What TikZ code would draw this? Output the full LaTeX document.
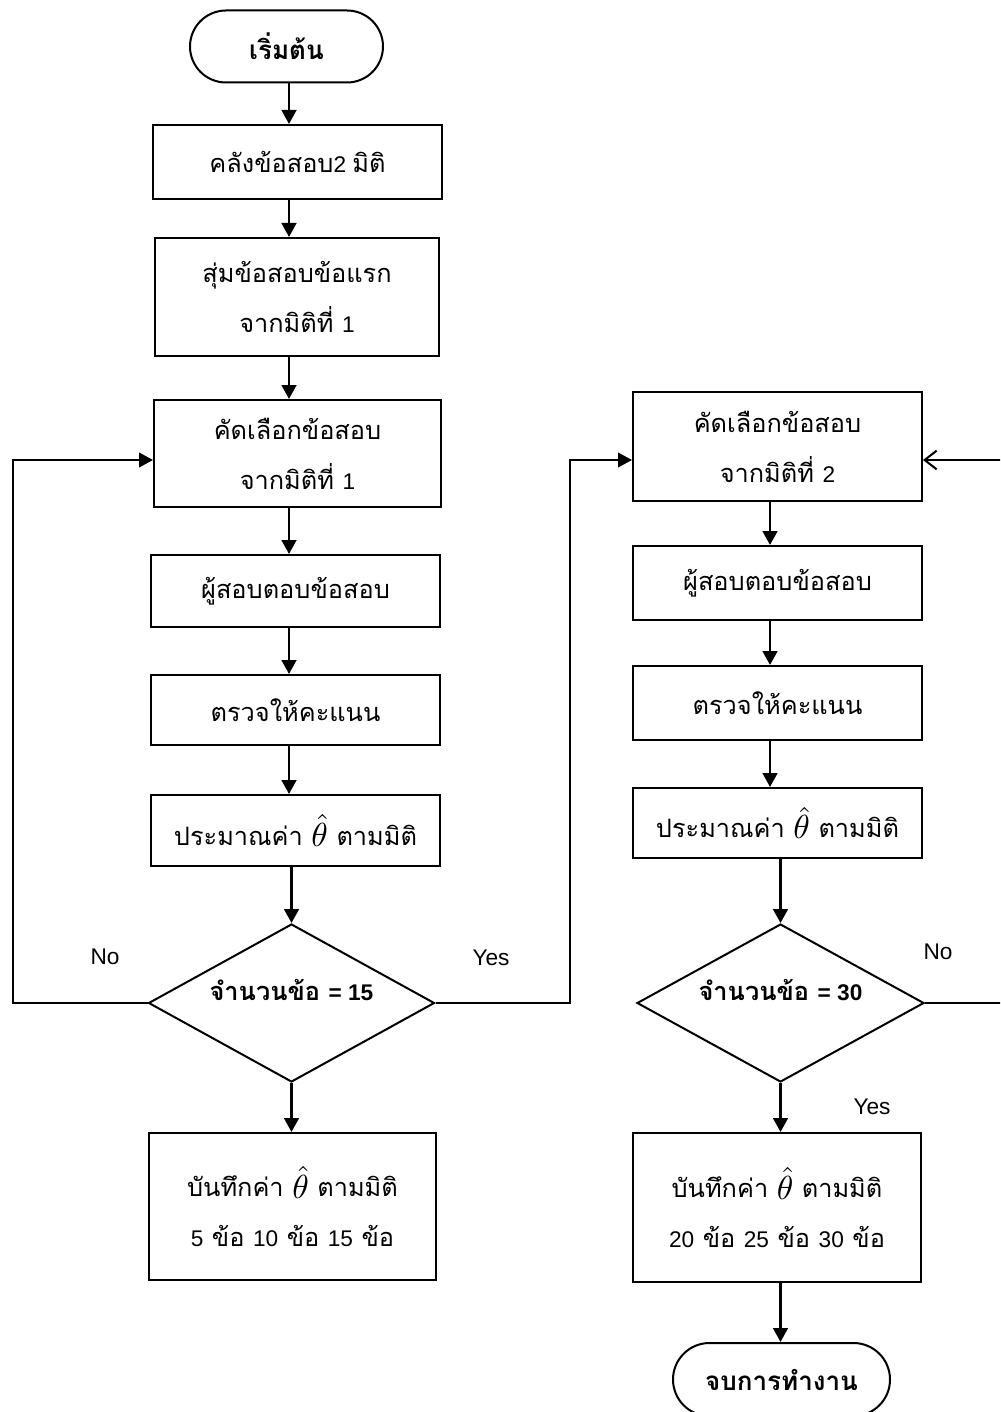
\documentclass[tikz,border=0pt]{standalone}
\usepackage{graphicx}
\usepackage{fontspec}
\setmainfont{Liberation Sans}
\newfontfamily\thaifont[Script=Thai]{Loma}
\usetikzlibrary{shapes.geometric,shapes.misc,arrows.meta}

\tikzset{
  sz/.style 2 args={minimum width=#1*0.75pt, minimum height=#2*0.75pt},
  proc/.style={draw, rectangle, line width=1.5pt, inner sep=0pt, align=center,
    font=\thaifont\fontsize{19}{37.5}\selectfont},
  term/.style={draw, rounded rectangle, line width=1.5pt, inner sep=0pt,
    font=\thaifont\bfseries\fontsize{19.5}{22}\selectfont},
  decide/.style={draw, diamond, line width=1.5pt, inner sep=0pt},
  dtext/.style={font=\thaifont\bfseries\fontsize{19}{22}\selectfont},
  flow/.style={line width=2pt, -{Triangle[length=10.5pt,width=11pt]}},
  loop/.style={line width=1.5pt},
  loopin/.style={line width=1.5pt, -{Triangle[length=10.5pt,width=11pt]}},
  backin/.style={line width=1.5pt, -{Straight Barb[length=9pt,width=14pt,line width=1.5pt]}},
  tag/.style={font=\fontsize{17}{20}\selectfont},
}
% estimate symbol and Latin digits inside Thai text
\newcommand\esthat{\raisebox{-1pt}{\scalebox{2.5}{\fontsize{10}{12}\selectfont$\hat{\theta}$}}}
\newcommand\nm[1]{{\rmfamily\fontsize{17}{37.5}\selectfont #1}}

\begin{document}
\begin{tikzpicture}[x=0.75pt,y=-0.75pt]
\useasboundingbox (0,0) rectangle (1000,1412);
\clip (0,0) rectangle (1000,1412);

% guide columns and rows for connectors
\coordinate (lc) at (289,0);
\coordinate (rc) at (770,0);
\coordinate (lx) at (13,0);
\coordinate (yx) at (570,0);
\coordinate (rx) at (1004,0);
\coordinate (ly) at (0,460);

% left column
\node[term, sz={193}{72}] (start) at (286.5,46.5) {เริ่มต้น};
\node[proc, sz={289}{74}] (b1) at (297.5,162) {คลังข้อสอบ\nm{2 }มิติ};
\node[proc, sz={284}{118}] (b2) at (297,297) {สุ่มข้อสอบข้อแรก\\จากมิติที่ \nm{1}};
\node[proc, sz={287}{107}] (b3) at (297.5,453.5) {คัดเลือกข้อสอบ\\จากมิติที่ \nm{1}};
\node[proc, sz={289}{72}] (b4) at (295.5,591) {ผู้สอบตอบข้อสอบ};
\node[proc, sz={289}{70}] (b5) at (295.5,710) {ตรวจให้คะแนน};
\node[proc, sz={289}{71}] (b6) at (295.5,830.5) {ประมาณค่า \esthat{} ตามมิติ};
\node[decide, sz={286}{158}] (d1) at (291.5,1003) {};
\node[dtext, yshift=10pt] (d1t) at (d1) {จำนวนข้อ \nm{= 15}};
\node[proc, sz={287}{147}] (b7) at (292.5,1206.5) {บันทึกค่า \esthat{} ตามมิติ\\\nm{5} ข้อ \nm{10} ข้อ \nm{15} ข้อ};

% right column
\node[proc, sz={289}{109}] (r3) at (777.5,446.5) {คัดเลือกข้อสอบ\\จากมิติที่ \nm{2}};
\node[proc, sz={289}{74}] (r4) at (777.5,583) {ผู้สอบตอบข้อสอบ};
\node[proc, sz={289}{74}] (r5) at (777.5,703) {ตรวจให้คะแนน};
\node[proc, sz={289}{70}] (r6) at (777.5,823) {ประมาณค่า \esthat{} ตามมิติ};
\node[decide, sz={287}{158}] (d2) at (780.5,1003) {};
\node[dtext, yshift=10pt] (d2t) at (d2) {จำนวนข้อ \nm{= 30}};
\node[proc, sz={288}{149}] (r7) at (777,1207.5) {บันทึกค่า \esthat{} ตามมิติ\\\nm{20} ข้อ \nm{25} ข้อ \nm{30} ข้อ};
\node[term, sz={217}{73}] (stop) at (781.5,1379.5) {จบการทำงาน};

% branch labels
\node[tag] (no1) at (105,957) {No};
\node[tag] (yes1) at (491,958) {Yes};
\node[tag] (no2) at (938,952) {No};
\node[tag] (yes2) at (872,1107) {Yes};

% main flow, left column
\draw[flow] (start.south -| lc) -- (b1.north -| lc);
\draw[flow] (b1.south -| lc) -- (b2.north -| lc);
\draw[flow] (b2.south -| lc) -- (b3.north -| lc);
\draw[flow] (b3.south -| lc) -- (b4.north -| lc);
\draw[flow] (b4.south -| lc) -- (b5.north -| lc);
\draw[flow] (b5.south -| lc) -- (b6.north -| lc);
\draw[flow] (b6.south -| d1.north) -- (d1.north);
\draw[flow] (d1.south) -- (b7.north -| d1.south);

% main flow, right column
\draw[flow] (r3.south -| rc) -- (r4.north -| rc);
\draw[flow] (r4.south -| rc) -- (r5.north -| rc);
\draw[flow] (r5.south -| rc) -- (r6.north -| rc);
\draw[flow] (r6.south -| d2.north) -- (d2.north);
\draw[flow] (d2.south) -- (r7.north -| d2.south);
\draw[flow] (r7.south -| d2.south) -- (stop.north -| d2.south);

% loops
\draw[loopin] (d1.west) -- (d1.west -| lx) -- (lx |- ly) -- (b3.west |- ly);
\draw[loopin] (d1.east) -- (d1.east -| yx) -- (yx |- ly) -- (r3.west |- ly);
\draw[loop] (d2.east) -- (d2.east -| rx);
\draw[backin] (rx |- ly) -- (r3.east |- ly);
\end{tikzpicture}
\end{document}
